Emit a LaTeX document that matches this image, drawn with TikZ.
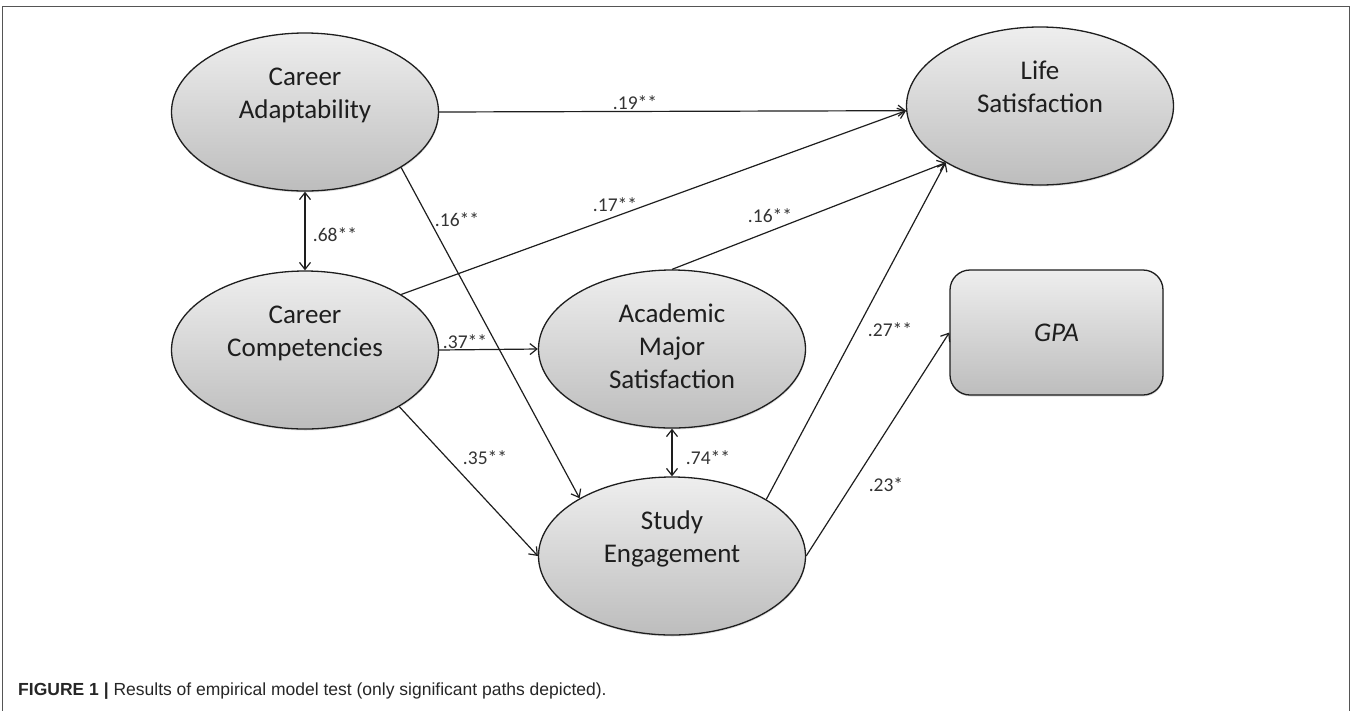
\documentclass[tikz,border=0pt]{standalone}
\usepackage{fontspec}
\setmainfont{Carlito}
\newfontfamily\capfont{Liberation Sans}
\usetikzlibrary{arrows.meta,shapes.geometric,shadows}
\definecolor{shtop}{HTML}{EEEEEE}
\definecolor{shbot}{HTML}{BDBDBD}
\definecolor{framec}{HTML}{555555}
\definecolor{txtc}{HTML}{1E1E1E}
\definecolor{lblc}{HTML}{333333}
\begin{document}
\begin{tikzpicture}[x=1pt,y=-1pt,
  latent/.style={ellipse, draw=txtc, line width=1.3pt, top color=shtop, bottom color=shbot,
    minimum width=267pt, minimum height=158pt, inner sep=0pt, align=center,
    font=\fontsize{27}{33}\selectfont, text=txtc,
    drop shadow={shadow xshift=0.5pt, shadow yshift=-1.5pt, opacity=0.25}},
  obs/.style={rectangle, rounded corners=20pt, draw=txtc, line width=1.3pt, top color=shtop, bottom color=shbot,
    minimum width=213pt, minimum height=125pt, inner sep=0pt,
    font=\fontsize{27}{33}\selectfont\itshape, text=txtc,
    drop shadow={shadow xshift=0.5pt, shadow yshift=-1.5pt, opacity=0.25}},
  pathar/.style={line width=1.2pt, draw=txtc, -{Straight Barb[length=7pt,width=11pt]}},
  cov/.style={line width=1.2pt, draw=txtc, {Straight Barb[length=7pt,width=11pt]}-{Straight Barb[length=7pt,width=11pt]}},
  coef/.style={font=\fontsize{19.5}{22}\selectfont, text=lblc, inner sep=0pt}
]
\useasboundingbox (0,0) rectangle (1351,710);
% frame
\coordinate (fbl) at (2.5,712);
\coordinate (ftl) at (2.5,6.5);
\coordinate (ftr) at (1349.5,6.5);
\coordinate (fbr) at (1349.5,712);
\draw[framec, line width=1.6pt] (fbl) -- (ftl) -- (ftr) -- (fbr);

% nodes
\node[latent] (ca)  at (305,112)  {\strut Career\\\strut Adaptability\\\strut};
\node[latent] (cc)  at (305,350)  {\strut Career\\\strut Competencies\\\strut};
\node[latent] (ls)  at (1040,106) {\strut Life\\\strut Satisfaction\\\strut};
\node[latent] (ams) at (672,349)  {\strut Academic\\\strut Major\\\strut Satisfaction};
\node[latent] (se)  at (672,556)  {\strut Study\\\strut Engagement\\\strut};
\node[obs]    (gpa) at (1056.5,332.5) {GPA};

% connectors
\draw[pathar] (ca.east) -- (ls.182);
\draw[pathar] (cc.30) -- (ls.182);
\draw[pathar] (ca.-30) -- (se.148);
\draw[pathar] (cc.east) -- (ams.west);
\draw[pathar] (cc.-31) -- (se.west);
\draw[cov] (ca.south) -- (cc.north);
\draw[pathar] (ams.north) -- (ls.211);
\draw[pathar] (se.31) -- (ls.211);
\draw[cov] (ams.south) -- (se.north);
\draw[pathar] (se.east) -- (gpa.west);

% coefficients
\node[coef] (l19) at (635,103) {.19**};
\node[coef] (l17) at (615,205) {.17**};
\node[coef] (l16a) at (457,220) {.16**};
\node[coef] (l16b) at (770,216) {.16**};
\node[coef] (l68) at (335,235) {.68**};
\node[coef] (l37) at (465,342) {.37**};
\node[coef] (l35) at (485,458) {.35**};
\node[coef] (l74) at (708,458) {.74**};
\node[coef] (l27) at (890,330) {.27**};
\node[coef] (l23) at (886,485) {.23*};

% caption
\node[anchor=base west, inner sep=0pt, text={black!85}, font=\capfont\fontsize{17.5}{20}\selectfont] (cap) at (18,695)
  {\textbf{FIGURE 1 |} Results of empirical model test (only significant paths depicted).};
\end{tikzpicture}
\end{document}
